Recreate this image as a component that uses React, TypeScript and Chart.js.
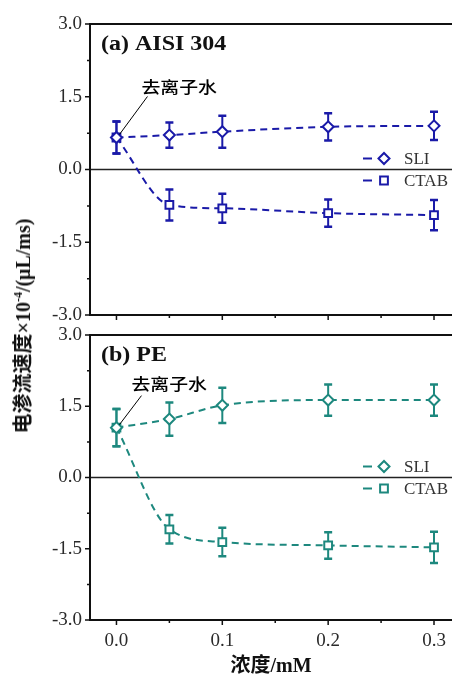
import React, { useEffect, useRef } from "react";
import { Chart, registerables } from "chart.js";

Chart.register(...registerables);

// ---------- data ----------
const CONC = [0, 0.05, 0.1, 0.2, 0.3];

const SLI_A = [0.66, 0.71, 0.78, 0.88, 0.9];
const SLI_A_ERR = [0.33, 0.26, 0.33, 0.28, 0.29];
const CTAB_A = [0.66, -0.73, -0.8, -0.9, -0.94];
const CTAB_A_ERR = [0.33, 0.32, 0.3, 0.28, 0.31];

const SLI_B = [1.05, 1.23, 1.52, 1.63, 1.63];
const SLI_B_ERR = [0.39, 0.35, 0.37, 0.33, 0.33];
const CTAB_B = [1.05, -1.09, -1.36, -1.43, -1.47];
const CTAB_B_ERR = [0.39, 0.3, 0.3, 0.28, 0.33];

const SERIES_NAMES = ["SLI", "CTAB"];
const X_TICKS = [0, 0.05, 0.1, 0.15, 0.2, 0.25, 0.3];
const X_TICK_LABELS = ["0.0", "", "0.1", "", "0.2", "", "0.3"];
const Y_TICKS = [-3, -2.25, -1.5, -0.75, 0, 0.75, 1.5, 2.25, 3];
const Y_TICK_LABELS = ["-3.0", "", "-1.5", "", "0.0", "", "1.5", "", "3.0"];

const X_MIN = -0.025;
const X_MAX = 0.317;

const BLUE = "#1a1aa8";
const TEAL = "#1d887e";
const SERIF = '"Liberation Serif", "Times New Roman", serif';
const SERIF_CJK = '"Liberation Serif", "Noto Sans CJK SC", serif';
const CJK = '"Noto Sans CJK SC", sans-serif';

type PanelCfg = {
  id: string;
  label: string;
  color: string;
  sli: number[];
  sliErr: number[];
  ctab: number[];
  ctabErr: number[];
  annot: { tx: number; ty: number; lx: number; ly: number };
};

function drawMarker(ctx: CanvasRenderingContext2D, style: string, cx: number, cy: number, r: number, color: string) {
  ctx.save();
  ctx.setLineDash([]);
  ctx.beginPath();
  if (style === "rectRot") {
    ctx.moveTo(cx - r, cy);
    ctx.lineTo(cx, cy - r);
    ctx.lineTo(cx + r, cy);
    ctx.lineTo(cx, cy + r);
    ctx.closePath();
  } else {
    const s = r * Math.SQRT1_2;
    ctx.rect(cx - s, cy - s, 2 * s, 2 * s);
  }
  ctx.fillStyle = "#fff";
  ctx.fill();
  ctx.strokeStyle = color;
  ctx.lineWidth = 2;
  ctx.stroke();
  ctx.restore();
}

function makePlugin(cfg: PanelCfg, errors: number[][]) {
  return {
    id: "panel_" + cfg.id,
    beforeDatasetsDraw(chart: any) {
      const { ctx, chartArea: ca, scales } = chart;
      const x = scales.x;
      const y = scales.y;
      ctx.save();
      const y0 = y.getPixelForValue(0);
      ctx.strokeStyle = "#222";
      ctx.lineWidth = 1.5;
      ctx.beginPath();
      ctx.moveTo(ca.left, y0);
      ctx.lineTo(ca.right, y0);
      ctx.stroke();
      chart.data.datasets.forEach((ds: any, di: number) => {
        const errs = errors[di];
        ds.data.forEach((p: any, i: number) => {
          const px = x.getPixelForValue(p.x);
          const top = y.getPixelForValue(p.y + errs[i]);
          const bot = y.getPixelForValue(p.y - errs[i]);
          ctx.strokeStyle = ds.borderColor;
          ctx.lineWidth = 2;
          ctx.beginPath();
          ctx.moveTo(px, top);
          ctx.lineTo(px, bot);
          ctx.stroke();
          ctx.lineWidth = 2.5;
          ctx.beginPath();
          ctx.moveTo(px - 4, top);
          ctx.lineTo(px + 4, top);
          ctx.moveTo(px - 4, bot);
          ctx.lineTo(px + 4, bot);
          ctx.stroke();
        });
      });
      ctx.restore();
    },
    afterDraw(chart: any) {
      const { ctx, chartArea: ca, scales } = chart;
      const x = scales.x;
      const y = scales.y;
      ctx.save();
      ctx.setLineDash([]);
      // frame
      ctx.strokeStyle = "#111";
      ctx.lineWidth = 2;
      ctx.beginPath();
      ctx.moveTo(ca.left, ca.top - 1);
      ctx.lineTo(ca.left, ca.bottom + 1);
      ctx.moveTo(ca.left - 1, ca.bottom);
      ctx.lineTo(ca.right, ca.bottom);
      ctx.moveTo(ca.left - 1, ca.top);
      ctx.lineTo(ca.right, ca.top);
      ctx.stroke();
      // ticks
      ctx.lineWidth = 1.5;
      ctx.beginPath();
      Y_TICKS.forEach((v, i) => {
        const py = y.getPixelForValue(v);
        const len = Y_TICK_LABELS[i] ? 5 : 3;
        ctx.moveTo(ca.left - len, py);
        ctx.lineTo(ca.left, py);
      });
      X_TICKS.forEach((v, i) => {
        const px = x.getPixelForValue(v);
        const len = X_TICK_LABELS[i] ? 5 : 3;
        ctx.moveTo(px, ca.bottom);
        ctx.lineTo(px, ca.bottom + len);
      });
      ctx.stroke();

      // panel label
      ctx.fillStyle = "#111";
      ctx.textBaseline = "middle";
      ctx.textAlign = "left";
      ctx.save();
      ctx.translate(ca.left + 11, ca.top + 21);
      ctx.scale(1.2, 1);
      ctx.font = "bold 20px " + SERIF;
      ctx.fillText(cfg.label, 0, 0);
      ctx.restore();

      // annotation
      const ax = x.getPixelForValue(CONC[0]);
      const ay = y.getPixelForValue(cfg.sli[0]);
      ctx.save();
      ctx.translate(ax + cfg.annot.tx, ay + cfg.annot.ty);
      ctx.scale(1.18, 1);
      ctx.font = "500 16px " + CJK;
      ctx.fillStyle = "#000";
      ctx.fillText("去离子水", 0, 0);
      ctx.restore();
      ctx.strokeStyle = "#000";
      ctx.lineWidth = 1;
      ctx.beginPath();
      ctx.moveTo(ax + cfg.annot.lx, ay + cfg.annot.ly);
      ctx.lineTo(ax + 3, ay - 3);
      ctx.stroke();

      // legend
      const y0 = y.getPixelForValue(0);
      const styles = ["rectRot", "rect"];
      const radii = [5.5, 5.5];
      [-11, 11].forEach((dy, i) => {
        const ry = y0 + dy;
        ctx.strokeStyle = cfg.color;
        ctx.lineWidth = 2;
        ctx.beginPath();
        ctx.moveTo(ca.right - 89, ry);
        ctx.lineTo(ca.right - 80, ry);
        ctx.stroke();
        drawMarker(ctx, styles[i], ca.right - 68, ry, radii[i], cfg.color);
        ctx.font = "17px " + SERIF;
        ctx.fillStyle = "#333";
        ctx.textBaseline = "middle";
        ctx.fillText(SERIES_NAMES[i], ca.right - 48, ry + 1);
      });
      ctx.restore();
    },
  };
}

function buildConfig(cfg: PanelCfg, opts: { padTop: number; xHeight: number; showX: boolean }) {
  const mk = (vals: number[]) => CONC.map((c, i) => ({ x: c, y: vals[i] }));
  const tickFont = { family: SERIF, size: 19 };
  return {
    type: "line" as const,
    data: {
      datasets: [
        {
          label: SERIES_NAMES[0],
          data: mk(cfg.sli),
          borderColor: cfg.color,
          backgroundColor: "#fff",
          borderWidth: 2,
          borderDash: [7, 5],
          cubicInterpolationMode: "monotone" as const,
          pointStyle: "rectRot",
          pointRadius: 5.5,
          pointBorderWidth: 2,
          pointBackgroundColor: "#fff",
          pointBorderColor: cfg.color,
          fill: false,
        },
        {
          label: SERIES_NAMES[1],
          data: mk(cfg.ctab),
          borderColor: cfg.color,
          backgroundColor: "#fff",
          borderWidth: 2,
          borderDash: [7, 5],
          cubicInterpolationMode: "monotone" as const,
          pointStyle: "rect",
          pointRadius: 5.5,
          pointBorderWidth: 2,
          pointBackgroundColor: "#fff",
          pointBorderColor: cfg.color,
          fill: false,
        },
      ],
    },
    options: {
      animation: false as const,
      responsive: false,
      devicePixelRatio: 1,
      layout: { autoPadding: false, padding: { top: opts.padTop, left: 0, right: 0, bottom: 0 } },
      plugins: { legend: { display: false }, tooltip: { enabled: false } },
      scales: {
        x: {
          type: "linear" as const,
          min: X_MIN,
          max: X_MAX,
          afterBuildTicks: (s: any) => {
            s.ticks = X_TICKS.map((v) => ({ value: v }));
          },
          afterFit: (s: any) => {
            s.height = opts.xHeight;
            s.paddingLeft = 0;
            s.paddingRight = 0;
          },
          grid: { display: false, drawTicks: false },
          border: { display: false },
          ticks: {
            display: opts.showX,
            autoSkip: false,
            maxRotation: 0,
            padding: 10,
            font: tickFont,
            color: "#2a2a2a",
            callback: (_v: any, i: number) => X_TICK_LABELS[i],
          },
          title: {
            display: opts.showX,
            text: "浓度/mM",
            color: "#111",
            font: { family: SERIF_CJK, size: 20, weight: "bold" as const, lineHeight: 1 },
            padding: { top: 0, bottom: 0 },
          },
        },
        y: {
          type: "linear" as const,
          min: -3,
          max: 3,
          afterBuildTicks: (s: any) => {
            s.ticks = Y_TICKS.map((v) => ({ value: v }));
          },
          afterFit: (s: any) => {
            s.width = 90;
          },
          grid: { display: false, drawTicks: false },
          border: { display: false },
          ticks: {
            autoSkip: false,
            padding: 8,
            font: tickFont,
            color: "#2a2a2a",
            callback: (_v: any, i: number) => Y_TICK_LABELS[i],
          },
        },
      },
    },
    plugins: [makePlugin(cfg, [cfg.sliErr, cfg.ctabErr])],
  };
}

const PANEL_A: PanelCfg = {
  id: "a",
  label: "(a) AISI 304",
  color: BLUE,
  sli: SLI_A,
  sliErr: SLI_A_ERR,
  ctab: CTAB_A,
  ctabErr: CTAB_A_ERR,
  annot: { tx: 25, ty: -51, lx: 31, ly: -41 },
};

const PANEL_B: PanelCfg = {
  id: "b",
  label: "(b) PE",
  color: TEAL,
  sli: SLI_B,
  sliErr: SLI_B_ERR,
  ctab: CTAB_B,
  ctabErr: CTAB_B_ERR,
  annot: { tx: 15, ty: -44, lx: 25, ly: -32 },
};

function Panel(props: { cfg: PanelCfg; top: number; height: number; padTop: number; xHeight: number; showX: boolean }) {
  const ref = useRef<HTMLCanvasElement>(null);
  useEffect(() => {
    if (!ref.current) return;
    const chart = new Chart(
      ref.current,
      buildConfig(props.cfg, { padTop: props.padTop, xHeight: props.xHeight, showX: props.showX }) as any
    );
    return () => chart.destroy();
  }, []);
  return (
    <canvas
      ref={ref}
      width={452}
      height={props.height}
      style={{ position: "absolute", left: 0, top: props.top, width: 452, height: props.height }}
    />
  );
}

export default function App() {
  return (
    <div style={{ position: "absolute", left: 0, top: 0, width: 452, height: 677, background: "#fff", overflow: "hidden" }}>
      <Panel cfg={PANEL_A} top={0} height={340} padTop={24} xHeight={25} showX={false} />
      <Panel cfg={PANEL_B} top={310} height={367} padTop={25} xHeight={57} showX={true} />
      <div
        style={{
          position: "absolute",
          left: 23,
          top: 326,
          transform: "translate(-50%, -50%) rotate(-90deg)",
          whiteSpace: "nowrap",
          fontFamily: SERIF_CJK,
          fontWeight: "bold",
          fontSize: 20,
          lineHeight: 1,
          color: "#111",
        }}
      >
        电渗流速度×10<sup style={{ fontSize: 12, verticalAlign: "8px", lineHeight: 0 }}>-4</sup>/(μL/ms)
      </div>
    </div>
  );
}
